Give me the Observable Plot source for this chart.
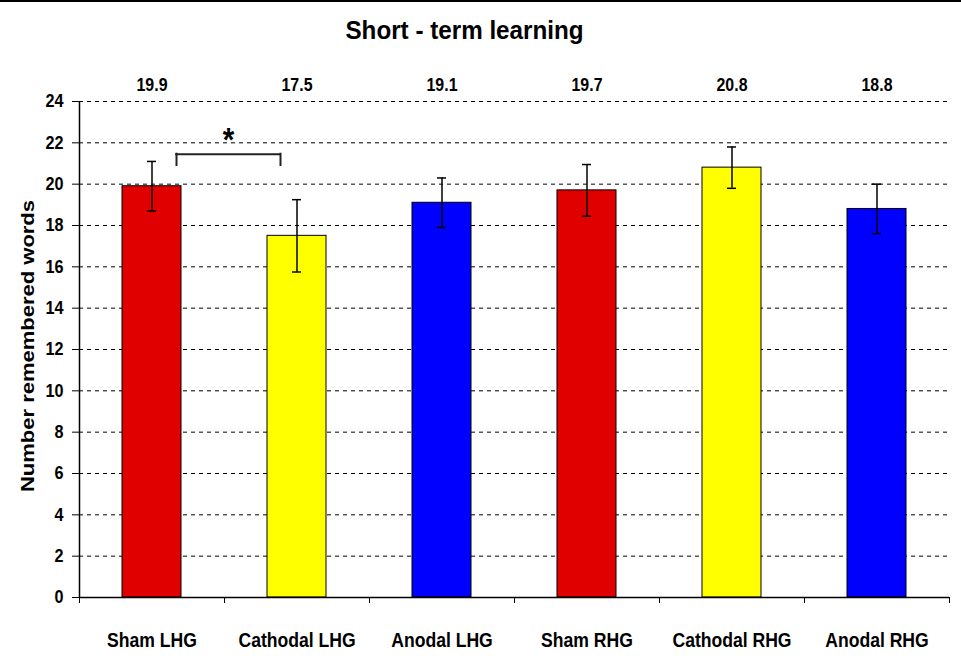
<!DOCTYPE html>
<html><head><meta charset="utf-8">
<script src="https://cdn.jsdelivr.net/npm/d3@7"></script>
<script src="https://cdn.jsdelivr.net/npm/@observablehq/plot@0.6"></script>
<style>
body{margin:0;background:#fff;}
#wrap{position:relative;width:961px;height:663px;overflow:hidden;}
#topline{position:absolute;left:0;top:0;width:961px;height:2px;background:#000;}
svg{font-family:"Liberation Sans",Arial,sans-serif;font-weight:bold;}
</style></head><body><div id="wrap"><div id="topline"></div></div>
<script>
const title = "Short - term learning";
const yLabel = "Number remembered words";
const categories = ["Sham LHG", "Cathodal LHG", "Anodal LHG", "Sham RHG", "Cathodal RHG", "Anodal RHG"];
const means = [19.9, 17.5, 19.1, 19.7, 20.8, 18.8];
const errors = [1.2, 1.75, 1.2, 1.25, 1.0, 1.2];
const colors = ["#e00000", "#ffff00", "#0000ff", "#e00000", "#ffff00", "#0000ff"];
const yTicks = [0, 2, 4, 6, 8, 10, 12, 14, 16, 18, 20, 22, 24];
const sigFrom = "Sham LHG", sigTo = "Cathodal LHG", sigLabel = "*", sigLow = 20.9, sigHigh = 21.45, sigStarY = 22.15;

const rows = categories.map((c, i) => ({cat: c, mean: means[i], err: errors[i], color: colors[i]}));
const fmt = d3.format(".1f");
const half = 72.5; // half category step in px
const squeeze = 0.87; // narrow lettering of the original

const chart = Plot.plot({
  width: 961, height: 663,
  marginLeft: 79, marginRight: 12, marginTop: 101, marginBottom: 66,
  style: {fontFamily: '"Liberation Sans", Arial, sans-serif', fontWeight: "bold", color: "#000", background: "#fff"},
  x: {domain: categories, paddingInner: 0.59, paddingOuter: 0.295, label: null},
  y: {domain: [0, 24], label: null},
  color: {type: "identity"},
  marks: [
    Plot.gridY(yTicks.filter(d => d > 0), {stroke: "#000", strokeOpacity: 1, strokeWidth: 1, strokeDasharray: "4,4"}),
    Plot.barY(rows, {x: "cat", y: "mean", fill: "color", stroke: "#000", strokeWidth: 1}),
    Plot.ruleX(rows, {x: "cat", y1: d => d.mean - d.err, y2: d => d.mean + d.err, stroke: "#000", strokeWidth: 1.5}),
    Plot.tickY(rows, {x: "cat", y: d => d.mean + d.err, insetLeft: 25, insetRight: 25, stroke: "#000", strokeWidth: 1.5}),
    Plot.tickY(rows, {x: "cat", y: d => d.mean - d.err, insetLeft: 25, insetRight: 25, stroke: "#000", strokeWidth: 1.5}),
    Plot.ruleY([0], {stroke: "#000", strokeWidth: 1.5}),
    Plot.ruleX([categories[0]], {x: d => d, dx: -half, y1: 0, y2: 24, stroke: "#000", strokeWidth: 1.5}),
    Plot.ruleX(categories, {x: d => d, dx: -half, y1: 0, y2: 0, insetBottom: -6, stroke: "#000", strokeWidth: 1}),
    Plot.ruleX([categories[categories.length - 1]], {x: d => d, dx: half, y1: 0, y2: 0, insetBottom: -6, stroke: "#000", strokeWidth: 1}),
    Plot.axisY(yTicks, {tickSize: 7, tickPadding: 9, fontSize: 18.6, label: null, stroke: "#000"}),
    Plot.axisX({tickSize: 0, tickPadding: 35, fontSize: 20.2, label: null}),
    Plot.text(rows, {x: "cat", text: d => fmt(d.mean), frameAnchor: "top", lineAnchor: "middle", dy: -16, fontSize: 18.3, fontWeight: "bold"}),
    Plot.text([title], {frameAnchor: "top", textAnchor: "middle", lineAnchor: "middle", dx: -50, dy: -71, fontSize: 25.5, fontWeight: "bold"}),
    Plot.text([yLabel], {frameAnchor: "left", textAnchor: "middle", lineAnchor: "middle", rotate: -90, dx: -52, dy: -3.5, fontSize: 22, fontWeight: "bold"}),
    // significance bracket
    Plot.ruleX([sigFrom], {x: d => d, dx: 24.5, y1: sigLow, y2: sigHigh, stroke: "#222", strokeWidth: 2, strokeLinecap: "square"}),
    Plot.ruleX([sigTo], {x: d => d, dx: -16.5, y1: sigLow, y2: sigHigh, stroke: "#222", strokeWidth: 2, strokeLinecap: "square"}),
    Plot.ruleY([sigHigh], {x1: () => sigFrom, x2: () => sigTo, insetLeft: 54.2, insetRight: 46.2, stroke: "#222", strokeWidth: 2, strokeLinecap: "square"}),
    Plot.text([sigLabel], {x: () => sigFrom, y: () => sigStarY, dx: 76.5, text: d => d, lineAnchor: "middle", fontSize: 34, fontWeight: "bold"})
  ]
});
// condense the lettering horizontally like the original
chart.querySelectorAll("text").forEach(t => {
  const tr = t.getAttribute("transform") || "";
  const isTitle = t.textContent === title;
  const s = isTitle ? 0.95 : squeeze;
  t.setAttribute("transform", tr + (/rotate/.test(tr) ? ` scale(1,${s})` : ` scale(${s},1)`));
});
document.getElementById("wrap").appendChild(chart);
</script>
</body></html>
